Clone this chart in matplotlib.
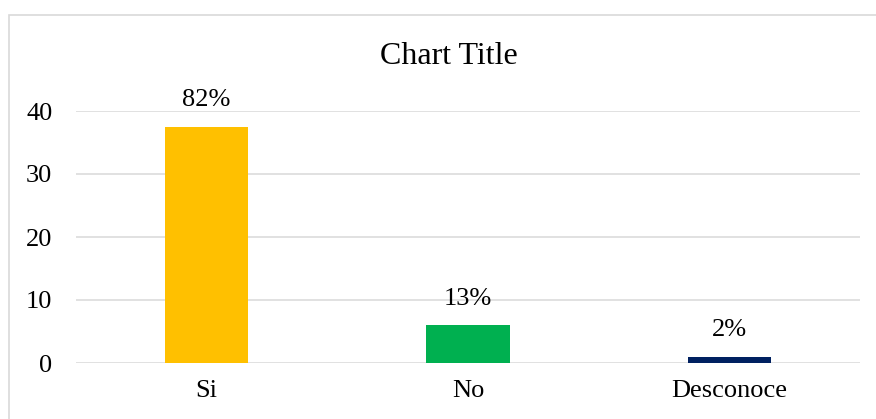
import numpy as np
import matplotlib
matplotlib.use("Agg")
import matplotlib.pyplot as plt
from matplotlib.patches import Rectangle

# data
categories = ["Si", "No", "Desconoce"]
counts = [37.5, 6, 1]
pct_labels = ["82%", "13%", "2%"]
bar_colors = ["#FFC000", "#00B050", "#002060"]
yticks = [0, 10, 20, 30, 40]

plt.rcParams["font.family"] = ["Liberation Serif", "DejaVu Serif"]

W, H = 876, 419
fig = plt.figure(figsize=(W / 100, H / 100), dpi=100)

# outer chart border (cropped on right/bottom)
fig.patches.append(Rectangle((8.5 / W, -0.1), 1.2, 1 - 15.5 / H + 0.1,
                             transform=fig.transFigure, fill=False,
                             edgecolor="#d9d9d9", linewidth=1.2))

ax = fig.add_axes([76 / W, 1 - 363 / H, (860 - 76) / W, (363 - 111) / H])
x = np.arange(len(categories))
bars = ax.bar(x, counts, width=0.32, color=bar_colors, zorder=3)

ax.set_xlim(-0.5, len(categories) - 0.5)
ax.set_ylim(0, 40)
ax.set_yticks(yticks)
ax.set_xticks(x)
ax.set_xticklabels(categories)
ax.grid(axis="y", color="#d9d9d9", linewidth=1.1, zorder=0)
for s in ax.spines.values():
    s.set_visible(False)
ax.tick_params(axis="both", length=0, labelsize=19, colors="black")
ax.tick_params(axis="y", pad=17)
ax.tick_params(axis="x", pad=12)

for b, lab in zip(bars, pct_labels):
    ax.annotate(lab, (b.get_x() + b.get_width() / 2, b.get_height()),
                xytext=(0, 11), textcoords="offset points",
                ha="center", va="bottom", fontsize=19)

fig.text(449 / W, 1 - 64 / H, "Chart Title", ha="center", va="baseline",
         fontsize=23)

fig.savefig("out.png", dpi=100)
